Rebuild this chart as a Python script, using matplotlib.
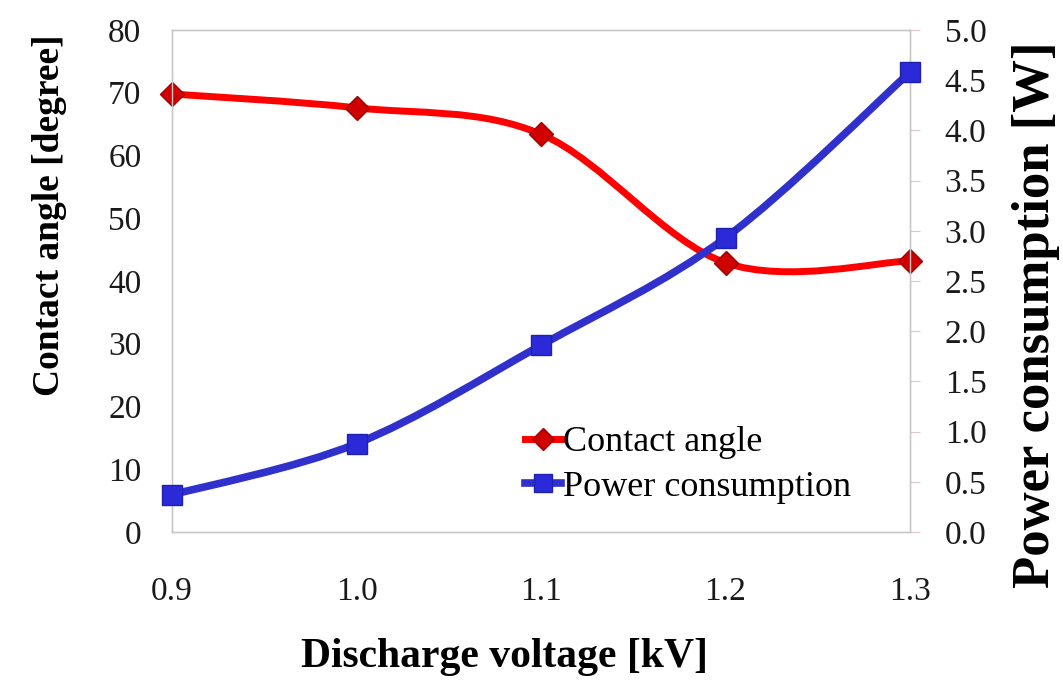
import numpy as np
import matplotlib
matplotlib.use("Agg")
from matplotlib import pyplot as plt
from matplotlib.path import Path
from matplotlib.patches import PathPatch
from matplotlib.lines import Line2D

volt = [0.9, 1.0, 1.1, 1.2, 1.3]
contact_angle = [69.8, 67.6, 63.4, 42.9, 43.2]
power = [0.37, 0.88, 1.86, 2.93, 4.58]

red_line = "#ff0000"
red_mark = "#d00000"
blue_line = "#3030cc"
blue_mark = "#2a2ad8"
grey = "#c8c8c8"

plt.rcParams['font.family'] = ['Liberation Serif', 'DejaVu Serif']


def smooth_path(x, y):
	# excel style smoothed line: bezier segments through every point
	p = np.column_stack([x, y]).astype(float)
	n = len(p)
	verts = [p[0]]
	codes = [Path.MOVETO]
	for i in range(n - 1):
		prev = p[max(i - 1, 0)]
		nxt = p[min(i + 2, n - 1)]
		c1 = p[i] + (p[i + 1] - prev) / 6.0
		c2 = p[i + 1] - (nxt - p[i]) / 6.0
		verts += [c1, c2, p[i + 1]]
		codes += [Path.CURVE4] * 3
	return Path(verts, codes)


fig = plt.figure(figsize=(10.63, 6.83), dpi=100)
ax = fig.add_axes([0.1618, 0.2211, 0.6943, 0.735])
ax2 = ax.twinx()

ax.add_patch(PathPatch(smooth_path(volt, contact_angle), facecolor="none",
	edgecolor=red_line, lw=5, capstyle="round", joinstyle="round", zorder=3))
ax.plot(volt, contact_angle, ls="none", marker="D", ms=12, color=red_mark,
	mec="#a00000", mew=1, zorder=4, clip_on=False)

ax2.add_patch(PathPatch(smooth_path(volt, power), facecolor="none",
	edgecolor=blue_line, lw=5.5, capstyle="round", joinstyle="round", zorder=3))
ax2.plot(volt, power, ls="none", marker="s", ms=14, color=blue_mark,
	mec="#2020b0", mew=1, zorder=4, clip_on=False)

ax.set_xlim(0.9, 1.3)
ax.set_ylim(0, 80)
ax2.set_ylim(0, 5)
ax.set_xticks(volt)
ax.set_xticklabels(["0.9", "1.0", "1.1", "1.2", "1.3"])
ax.set_yticks(np.arange(0, 81, 10))
ax2.set_yticks(np.arange(0, 5.01, 0.5))
ax2.set_yticklabels(["%.1f" % v for v in np.arange(0, 5.01, 0.5)])

for a in (ax, ax2):
	for s in a.spines.values():
		s.set_color(grey)
		s.set_linewidth(1)

ax.tick_params(axis="y", length=0, pad=22, labelsize=24, labelcolor="#1a1a1a")
ax.tick_params(axis="x", length=0, pad=32, labelsize=24, labelcolor="#1a1a1a")
ax2.tick_params(axis="y", length=7, color="#e0c8c8", pad=18, labelsize=24, labelcolor="#1a1a1a")

fig.text(0.475, 0.038, "Discharge voltage [kV]", fontsize=30, fontweight="bold",
	ha="center", va="center")
fig.text(0.047, 0.685, "Contact angle [degree]", fontsize=27, fontweight="bold",
	ha="center", va="center", rotation=90)
fig.text(0.975, 0.539, "Power consumption [W]", fontsize=38, fontweight="bold",
	ha="center", va="center", rotation=90)

handles = [
	Line2D([], [], color=red_line, lw=5, marker="D", ms=11, mfc=red_mark, mec="#a00000"),
	Line2D([], [], color=blue_line, lw=5.5, marker="s", ms=13, mfc=blue_mark, mec="#2020b0"),
]
ax2.legend(handles, ["Contact angle", "Power consumption"], loc="upper left",
	bbox_to_anchor=(0.494, 0.376), bbox_transform=fig.transFigure, frameon=False,
	fontsize=26, handlelength=1.0, handletextpad=0.05, labelspacing=0.3,
	borderaxespad=0, borderpad=0)

plt.savefig("out.png", dpi=100)
plt.close()
